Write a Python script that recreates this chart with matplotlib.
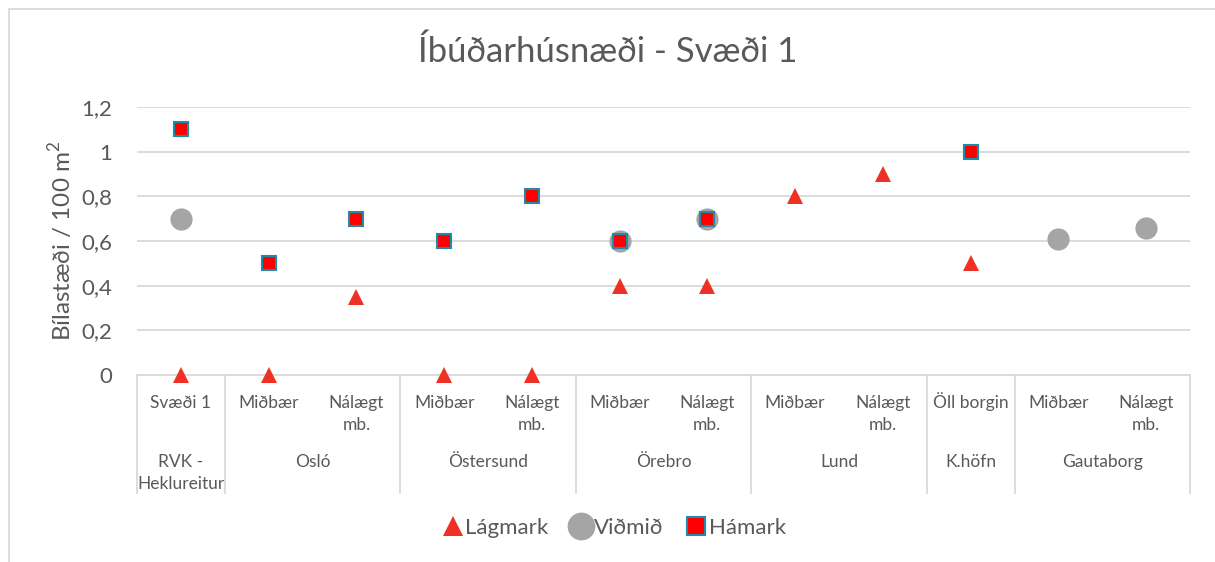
import matplotlib
matplotlib.use('Agg')
import matplotlib.pyplot as plt
import matplotlib.transforms as mtransforms
import numpy as np

plt.rcParams['font.family'] = ['Lato', 'DejaVu Sans']
plt.rcParams['mathtext.fontset'] = 'custom'
plt.rcParams['mathtext.rm'] = 'Lato'

# categories (sub level) and their groups
subLabels = ['Svæði 1', 'Miðbær', 'Nálægt\nmb.', 'Miðbær', 'Nálægt\nmb.', 'Miðbær', 'Nálægt\nmb.',
             'Miðbær', 'Nálægt\nmb.', 'Öll borgin', 'Miðbær', 'Nálægt\nmb.']
groupLabels = ['RVK -\nHeklureitur', 'Osló', 'Östersund', 'Örebro', 'Lund', 'K.höfn', 'Gautaborg']
groupSizes = [1, 2, 2, 2, 2, 1, 2]

nan = np.nan
lagmark = [0, 0, 0.35, 0, 0, 0.4, 0.4, 0.8, 0.9, 0.5, nan, nan]
vidmid = [0.7, nan, nan, nan, nan, 0.6, 0.7, nan, nan, nan, 0.61, 0.66]
hamark = [1.1, 0.5, 0.7, 0.6, 0.8, 0.6, 0.7, nan, nan, 1.0, nan, nan]

yTicks = [0, 0.2, 0.4, 0.6, 0.8, 1, 1.2]
yTickLabels = ['0', '0,2', '0,4', '0,6', '0,8', '1', '1,2']

textColor = '#595959'
lineColor = '#D9D9D9'

fig = plt.figure(figsize=(12.15, 5.62), dpi=100)
ax = fig.add_axes([137/1215, 1-375/562, (1190-137)/1215, 268/562])

x = np.arange(len(subLabels))

ax.plot(x, lagmark, linestyle='none', marker='^', markersize=12, color='#EE3124',
        markeredgewidth=0, label='Lágmark', clip_on=False, zorder=3)
ax.plot(x, vidmid, linestyle='none', marker='o', markersize=16, color='#A5A5A5',
        markeredgewidth=0, label='Viðmið', clip_on=False, zorder=4)
ax.plot(x, hamark, linestyle='none', marker='s', markersize=10, markerfacecolor='#FF0000',
        markeredgecolor='#1F8BAA', markeredgewidth=1.5, label='Hámark', clip_on=False, zorder=5)

ax.set_xlim(-0.5, len(subLabels)-0.5)
ax.set_ylim(0, 1.2)
ax.set_yticks(yTicks)
ax.set_yticklabels(yTickLabels)
ax.tick_params(axis='y', length=0, labelsize=16, colors=textColor, pad=18)
ax.set_xticks([])
ax.grid(axis='y', color=lineColor, linewidth=1.3)
ax.set_axisbelow(True)
for side in ['left', 'right', 'top']:
  ax.spines[side].set_visible(False)
ax.spines['bottom'].set_color(lineColor)
ax.spines['bottom'].set_linewidth(1.3)

ax.set_ylabel('Bílastæði / 100 m$^{2}$', fontsize=17.5, color=textColor, labelpad=4)

# two level category axis, one text per line so baselines line up
trans = mtransforms.blended_transform_factory(ax.transData, ax.transAxes)
lineStep = 0.082

def PutLabel(xPos, yBase, label):
  for k, line in enumerate(label.split('\n')):
    ax.text(xPos, yBase - k*lineStep, line, transform=trans, ha='center', va='baseline',
            fontsize=12.5, color=textColor)

for i in range(len(subLabels)):
  PutLabel(x[i], -0.123, subLabels[i])

edges = np.concatenate([[0], np.cumsum(groupSizes)]) - 0.5
for g in range(len(groupLabels)):
  PutLabel((edges[g] + edges[g+1]) / 2, -0.343, groupLabels[g])
for e in edges:
  ax.plot([e, e], [0, -0.44], transform=trans, color=lineColor, linewidth=1.3, clip_on=False)

fig.text(0.5, 1-52/562, 'Íbúðarhúsnæði - Svæði 1', ha='center', va='center', fontsize=25, color=textColor)

fig.legend(loc='center', bbox_to_anchor=(0.505, 1-528/562), ncol=3, frameon=False, fontsize=16,
           handletextpad=0.05, columnspacing=1.0, labelcolor=textColor, handlelength=1.0,
           markerscale=1.25)

# chart border
border = plt.Rectangle((9/1215, -0.1), 1.2, 1-9/562+0.1, transform=fig.transFigure,
                       fill=False, edgecolor=lineColor, linewidth=1.3)
fig.add_artist(border)

fig.savefig('out.png', dpi=100)
